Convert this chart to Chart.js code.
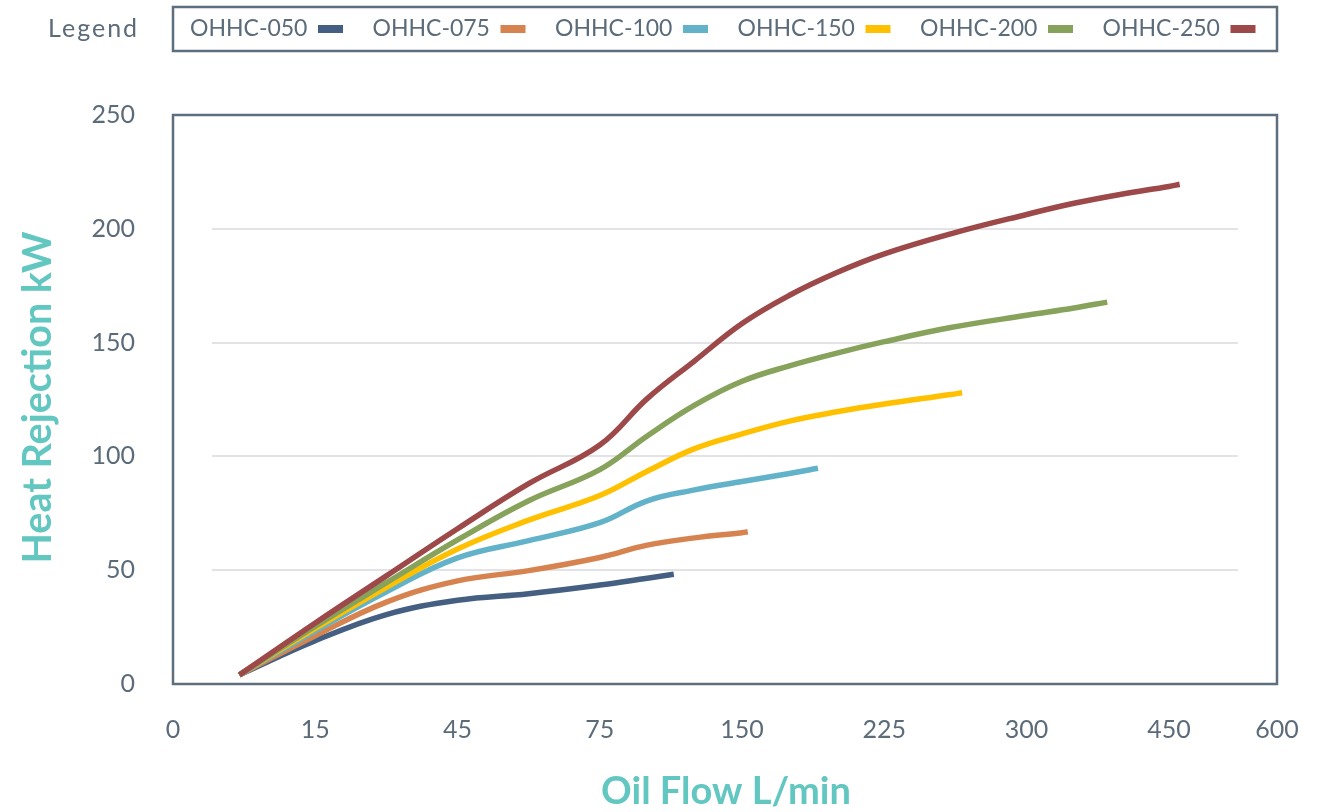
<!DOCTYPE html>
<html>
<head>
<meta charset="utf-8">
<script src="https://cdn.jsdelivr.net/npm/chart.js@4.4.1/dist/chart.umd.min.js"></script>
<style>
html,body{margin:0;padding:0;background:#ffffff;}
#wrap{width:1336px;height:812px;position:relative;}
canvas{display:block;}
</style>
</head>
<body>
<div id="wrap"><canvas id="c" width="1336" height="812"></canvas></div>
<script>
// ---------------- DATA ----------------
const seriesNames = ['OHHC-050', 'OHHC-075', 'OHHC-100', 'OHHC-150', 'OHHC-200', 'OHHC-250'];

// Oil flow (L/min) and heat rejection (kW) per model
const flow050 = [7, 15, 30, 45, 60, 75, 100, 114];
const heat050 = [4, 19, 30.5, 36.8, 39.7, 43.5, 46.5, 48.2];

const flow075 = [7, 15, 30, 45, 60, 75, 100, 125, 150, 153];
const heat075 = [4, 21.2, 36, 45.3, 49.8, 55.6, 61, 64.2, 66.5, 66.9];

const flow100 = [7, 15, 30, 45, 60, 75, 100, 125, 150, 175, 190];
const heat100 = [4, 23.4, 40.5, 55.4, 63, 70.9, 80.5, 85.3, 89, 92.5, 94.8];

const flow150 = [7, 15, 30, 45, 60, 75, 100, 125, 150, 175, 200, 225, 260, 266];
const heat150 = [4, 24.4, 42.5, 59.3, 72, 82.8, 93.5, 103.4, 109.9, 115.5, 119.6, 123, 127.2, 128];

const flow200 = [7, 15, 30, 45, 60, 75, 100, 125, 150, 175, 200, 225, 260, 300, 350, 385];
const heat200 = [4, 25.4, 44.5, 63.3, 80.5, 94.2, 109, 122.5, 133, 139.8, 145.4, 150.4, 156.6, 162, 165.2, 167.8];

const flow250 = [7, 15, 30, 45, 60, 75, 100, 125, 150, 175, 200, 225, 260, 300, 350, 400, 450, 465];
const heat250 = [4, 26.8, 47.5, 68.2, 88, 105, 125.4, 142, 158.4, 170.8, 180.8, 189, 197.8, 206.3, 211.2, 215.2, 218.6, 219.6];

// Axis tick labels
const xTickLabels = [0, 15, 45, 75, 150, 225, 300, 450, 600];
const yMin = 0, yMax = 250, yStep = 50;

// ---------------- STYLE / LAYOUT ----------------
const colors = ['#445f82', '#d6834f', '#62b2c9', '#ffc000', '#87a25a', '#9d494a'];
const TEXT = '#5b6b79';
const TEAL = '#62c6c1';
const FRAME = '#5e6e7c';
const GRID = '#e2e2e7';
const FONT = 'Lato, "Open Sans", sans-serif';
// axis position of each x tick label (ticks evenly spaced, last one shorter)
const X_STEPS = [0, 1, 2, 3, 4, 5, 6, 7, 7.76];

function flowToAxis(f) {
  for (let i = 0; i < xTickLabels.length - 1; i++) {
    const a = xTickLabels[i], b = xTickLabels[i + 1];
    if (f <= b) return X_STEPS[i] + (f - a) / (b - a) * (X_STEPS[i + 1] - X_STEPS[i]);
  }
  return X_STEPS[X_STEPS.length - 1];
}

const flows = [flow050, flow075, flow100, flow150, flow200, flow250];
const heats = [heat050, heat075, heat100, heat150, heat200, heat250];

const datasets = seriesNames.map((name, i) => ({
  label: name,
  data: flows[i].map((f, j) => ({ x: flowToAxis(f), y: heats[i][j] })),
  borderColor: colors[i],
  backgroundColor: colors[i],
  borderWidth: 5.5,
  pointRadius: 0,
  pointHoverRadius: 0,
  fill: false,
  tension: 0.4,
  borderCapStyle: 'butt',
  borderJoinStyle: 'round',
  order: seriesNames.length - i
}));

// Plugin: frame, inset gridlines, titles and custom legend
const decor = {
  id: 'decor',
  beforeDatasetsDraw(chart) {
    const { ctx, chartArea: ca, scales } = chart;
    ctx.save();
    ctx.strokeStyle = GRID;
    ctx.lineWidth = 2;
    for (let v = yMin + yStep; v < yMax; v += yStep) {
      const y = Math.round(scales.y.getPixelForValue(v));
      ctx.beginPath();
      ctx.moveTo(ca.left + 39, y);
      ctx.lineTo(ca.right - 39, y);
      ctx.stroke();
    }
    ctx.restore();
  },
  afterDraw(chart) {
    const { ctx, chartArea: ca } = chart;
    ctx.save();
    // frame
    ctx.strokeStyle = FRAME;
    ctx.lineWidth = 2.5;
    ctx.strokeRect(ca.left, ca.top, ca.right - ca.left, ca.bottom - ca.top);

    // axis titles
    ctx.fillStyle = TEAL;
    ctx.textAlign = 'center';
    ctx.textBaseline = 'middle';
    ctx.font = 'bold 38px ' + FONT;
    ctx.fillText('Oil Flow L/min', 726, 792);
    ctx.save();
    ctx.font = 'bold 39.5px ' + FONT;
    ctx.translate(38, (ca.top + ca.bottom) / 2 - 2);
    ctx.rotate(-Math.PI / 2);
    ctx.fillText('Heat Rejection kW', 0, 0);
    ctx.restore();

    // legend
    const ly = 29;
    ctx.fillStyle = TEXT;
    ctx.textAlign = 'left';
    ctx.textBaseline = 'middle';
    ctx.font = '25px ' + FONT;
    ctx.letterSpacing = '2px';
    ctx.fillText('Legend', 48, ly);
    ctx.letterSpacing = '0px';
    ctx.font = '23px ' + FONT;
    ctx.strokeStyle = FRAME;
    ctx.lineWidth = 2.5;
    ctx.strokeRect(ca.left, 7, ca.right - ca.left, 44);
    chart.data.datasets.forEach((ds, i) => {
      const tx = 190 + i * 182.5;
      ctx.fillStyle = TEXT;
      ctx.fillText(ds.label, tx, ly);
      ctx.fillStyle = ds.borderColor;
      ctx.fillRect(tx + 128, ly - 4, 25, 8);
    });
    ctx.restore();
  }
};

new Chart(document.getElementById('c'), {
  type: 'line',
  data: { datasets },
  options: {
    responsive: false,
    animation: false,
    devicePixelRatio: 1,
    layout: { padding: { left: 0, top: 115, right: 59, bottom: 0 } },
    plugins: { legend: { display: false }, tooltip: { enabled: false } },
    scales: {
      x: {
        type: 'linear',
        min: X_STEPS[0],
        max: X_STEPS[X_STEPS.length - 1],
        afterBuildTicks: s => { s.ticks = X_STEPS.map(v => ({ value: v })); },
        afterFit: s => { s.height = 128; },
        grid: { display: false, drawTicks: false },
        border: { display: false },
        ticks: {
          autoSkip: false, maxRotation: 0, padding: 31, color: TEXT,
          font: { family: FONT, size: 25 },
          callback: (v, i) => String(xTickLabels[i])
        }
      },
      y: {
        min: yMin, max: yMax,
        afterFit: s => { s.width = 173; },
        grid: { display: false, drawTicks: false },
        border: { display: false },
        ticks: { stepSize: yStep, padding: 38, color: TEXT, font: { family: FONT, size: 25 } }
      }
    }
  },
  plugins: [decor]
});
</script>
</body>
</html>
